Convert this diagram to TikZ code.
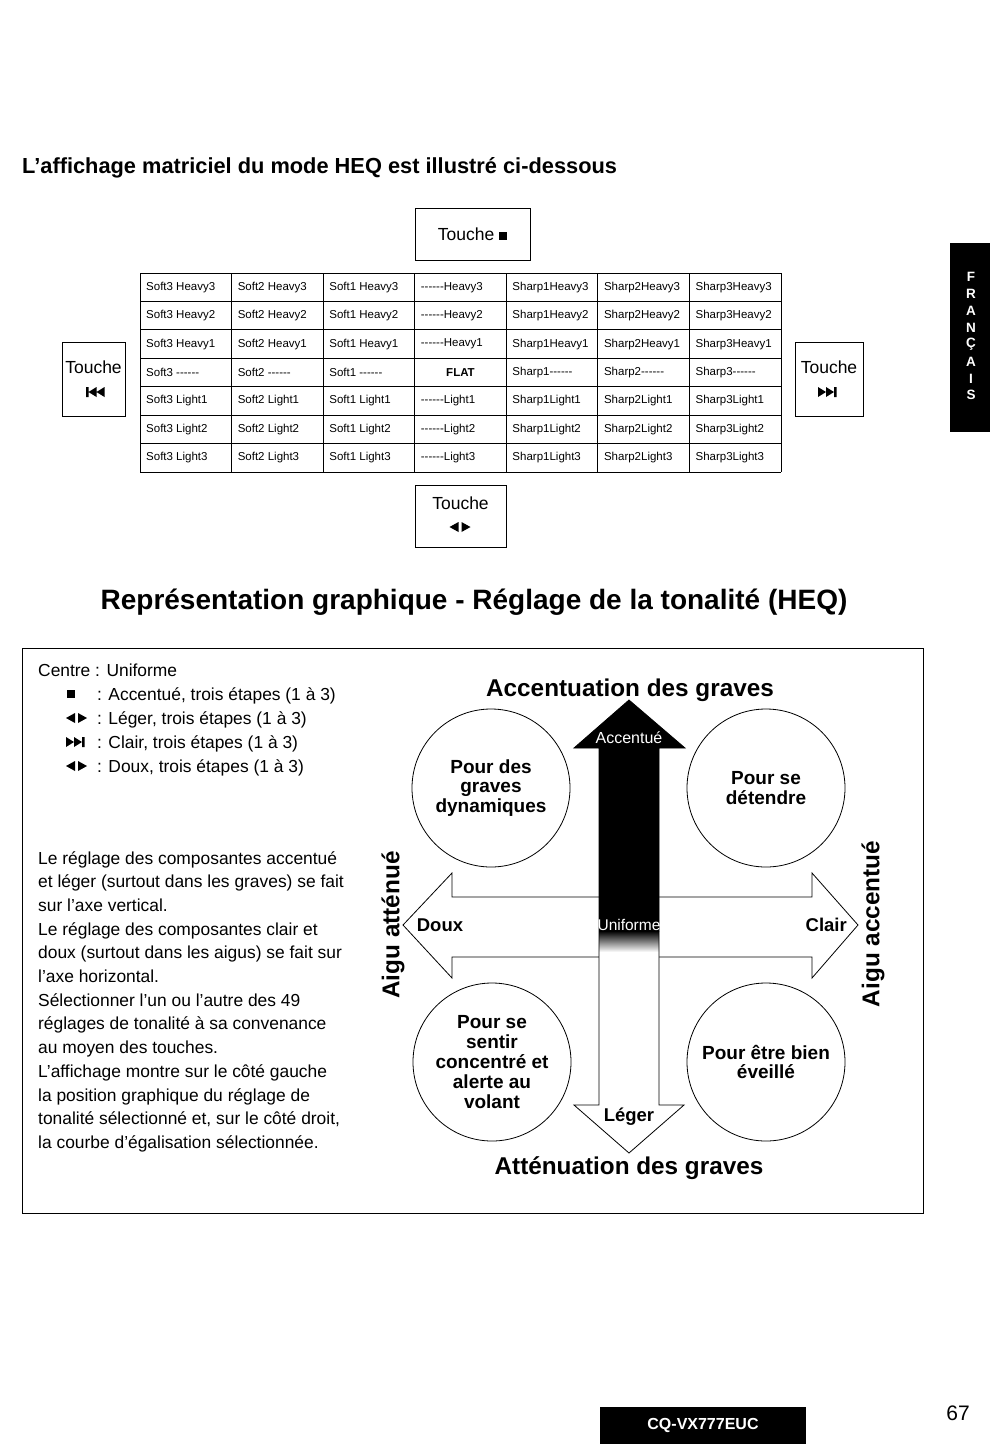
\documentclass[tikz,border=0pt]{standalone}
\usepackage{fontspec}
\setmainfont{Liberation Sans}
\newcommand\fs[2]{\fontsize{#1}{#2}\selectfont}
\newcommand\dashes{-{}-{}-{}-{}-{}-}
\newcommand\sqmark{\rule[0.3pt]{0.45em}{0.45em}}
\tikzset{
  keybox/.style={draw,line width=.8pt,inner sep=0pt},
  keytext/.style={font=\fs{17.5}{21},inner sep=0pt},
  tabcell/.style={anchor=west,inner sep=0pt,font=\fs{11.5}{13}},
  bodytext/.style={inner sep=0pt,font=\fs{17.4}{23.7}},
  bubble/.style={draw,circle,line width=.8pt,minimum size=158pt,inner sep=0pt,align=center,font=\bfseries\fs{19}{19.8}},
  axislabel/.style={inner sep=0pt,font=\bfseries\fs{24.3}{28}},
  dirlabel/.style={inner sep=0pt,font=\bfseries\fs{18.5}{22}},
  inarrow/.style={inner sep=0pt,text=white,font=\fs{15.5}{18}},
  pics/lrsym/.style={code={\fill (-11,0)--(-2,-5)--(-2,5)--cycle (1,-5)--(10,0)--(1,5)--cycle;}},
  pics/nextsym/.style={code={\fill (-11,-5)--(-3,0)--(-11,5)--cycle (-3,-5)--(5,0)--(-3,5)--cycle (5,-5) rectangle (7.5,5);}},
  pics/prevsym/.style={code={\fill (11,-5)--(3,0)--(11,5)--cycle (3,-5)--(-5,0)--(3,5)--cycle (-5,-5) rectangle (-7.5,5);}}
}
\begin{document}
\begin{tikzpicture}[x=1pt,y=-1pt,line join=miter]
  \useasboundingbox[fill=white] (0,0) rectangle (990,1444);
  \node[anchor=base west,inner sep=0pt,font=\bfseries\fs{21.8}{25}] (title1) at (22,173) {L'affichage matriciel du mode HEQ est illustré ci-dessous};
  \begin{scope}
    \node[keybox,minimum width=115pt,minimum height=52pt] (keysq) at (472.5,234) {};\node[keytext] (keysqtxt) at (472.5,234) {Touche \sqmark};
    \node[keybox,minimum width=63pt,minimum height=74pt] (keyprev) at (93.5,379) {};\node[keytext] (keyprevtxt) at (93.5,367) {Touche};\pic at (93.5,392) {prevsym};
    \node[keybox,minimum width=68pt,minimum height=74pt] (keynext) at (829,379) {};\node[keytext] (keynexttxt) at (829,367) {Touche};\pic at (829,392) {nextsym};
    \node[keybox,minimum width=91pt,minimum height=62pt] (keylr) at (460.5,516) {};\node[keytext] (keylrtxt) at (460.5,503) {Touche};\pic at (460.5,527) {lrsym};
    \foreach \col in {0,...,7} \draw[line width=.8pt] ({140+\col*91.57},273) -- ++(0,199);
    \foreach \row in {0,...,7} \draw[line width=.8pt] (140,{273+\row*28.43}) -- ++(641,0);
    \foreach \lvl [count=\rw] in {Heavy3,Heavy2,Heavy1,\dashes,Light1,Light2,Light3}
      \foreach \tone [count=\cl] in {Soft3,Soft2,Soft1,\dashes,Sharp1,Sharp2,Sharp3} {
        \ifnum\cl<4 \def\celltxt{\tone\ \lvl}\else\def\celltxt{\tone\lvl}\fi
        \ifnum\rw\cl=44 \def\celltxt{}\fi
        \node[tabcell] (cell-\rw-\cl) at ({146+(\cl-1)*91.57},{273+(\rw-.5)*28.43}) {\celltxt};
      }
    \node[inner sep=0pt,font=\bfseries\fs{11.5}{13}] (flat) at (460.5,372.5) {FLAT};
  \end{scope}
  \fill (950,243) rectangle (990,432);
  \foreach \ch [count=\i] in {F,R,A,N,Ç,A,I,S} \node[inner sep=0pt,text=white,font=\bfseries\fs{13.5}{15}] (tab-\i) at (971,{277+(\i-1)*16.9}) {\ch};
  \node[anchor=base,inner sep=0pt,font=\bfseries\fs{28}{32}] (title2) at (474,609) {Représentation graphique - Réglage de la tonalité (HEQ)};
  \begin{scope}
    \draw[line width=.8pt] (22,648) rectangle (923,1213);
    \node[bodytext,anchor=base west] (centre) at (38,676) {Centre : Uniforme};
    \node[inner sep=0pt,font=\fs{17.4}{20}] (legsq) at (71,694) {\sqmark};\node[bodytext,anchor=base west] (leg1) at (97,700) {: Accentué, trois étapes (1 à 3)};
    \pic at (77,718) {lrsym};\node[bodytext,anchor=base west] (leg2) at (97,724) {: Léger, trois étapes (1 à 3)};
    \pic at (77,742) {nextsym};\node[bodytext,anchor=base west] (leg3) at (97,748) {: Clair, trois étapes (1 à 3)};
    \pic at (77,766) {lrsym};\node[bodytext,anchor=base west] (leg4) at (97,772) {: Doux, trois étapes (1 à 3)};
    \node[bodytext,anchor=north west,align=left] (para) at (38,851) {Le réglage des composantes accentué\\et léger (surtout dans les graves) se fait\\sur l'axe vertical.\\Le réglage des composantes clair et\\doux (surtout dans les aigus) se fait sur\\l'axe horizontal.\\Sélectionner l'un ou l'autre des 49\\réglages de tonalité à sa convenance\\au moyen des touches.\\L'affichage montre sur le côté gauche\\la position graphique du réglage de\\tonalité sélectionné et, sur le côté droit,\\la courbe d'égalisation sélectionnée.};
  \end{scope}
  \begin{scope}
    \node[axislabel] (bassup) at (630,690) {Accentuation des graves};
    \node[axislabel] (bassdown) at (629,1168) {Atténuation des graves};
    \node[axislabel,rotate=90] (treblow) at (393,925) {Aigu atténué};
    \node[axislabel,rotate=90] (trebhigh) at (873,924) {Aigu accentué};
    \draw[line width=.8pt,fill=white] (403,925) -- (452,873) -- (452,897) -- (812,897) -- (812,873) -- (858,925) -- (812,978) -- (812,957) -- (452,957) -- (452,978) -- cycle;
    \fill[white] (629,700) -- (685,748) -- (659,748) -- (659,1105) -- (684,1105) -- (629,1153) -- (574,1105) -- (599,1105) -- (599,748) -- (574,748) -- cycle;
    \fill (629,700) -- (685,748) -- (659,748) -- (659,932) -- (599,932) -- (599,748) -- (574,748) -- cycle;
    \shade[top color=black,bottom color=white] (599,931) rectangle (659,952);
    \draw[line width=.8pt] (629,700) -- (685,748) -- (659,748) -- (659,1105) -- (684,1105) -- (629,1153) -- (574,1105) -- (599,1105) -- (599,748) -- (574,748) -- cycle;
    \node[inarrow,font=\fs{16}{18}] (accent) at (629,738) {Accentué};
    \node[inarrow] (flatmid) at (629,925) {Uniforme};
    \node[dirlabel] (doux) at (440,925) {Doux};
    \node[dirlabel,anchor=east] (clair) at (847,925) {Clair};
    \node[dirlabel] (leger) at (629,1117) {Léger};
    \node[bubble] (dyn) at (491,788) {Pour des\\graves\\dynamiques};
    \node[bubble] (relax) at (766,788) {Pour se\\détendre};
    \node[bubble] (focus) at (492,1062) {Pour se\\sentir\\concentré et\\alerte au\\volant};
    \node[bubble] (awake) at (766,1062) {Pour être bien\\éveillé};
  \end{scope}
  \fill (600,1407) rectangle (806,1444);
  \node[inner sep=0pt,text=white,font=\bfseries\fs{16}{19}] (model) at (703,1425) {CQ-VX777EUC};
  \node[inner sep=0pt,font=\fs{21}{24}] (page) at (958,1413) {67};
\end{tikzpicture}
\end{document}
